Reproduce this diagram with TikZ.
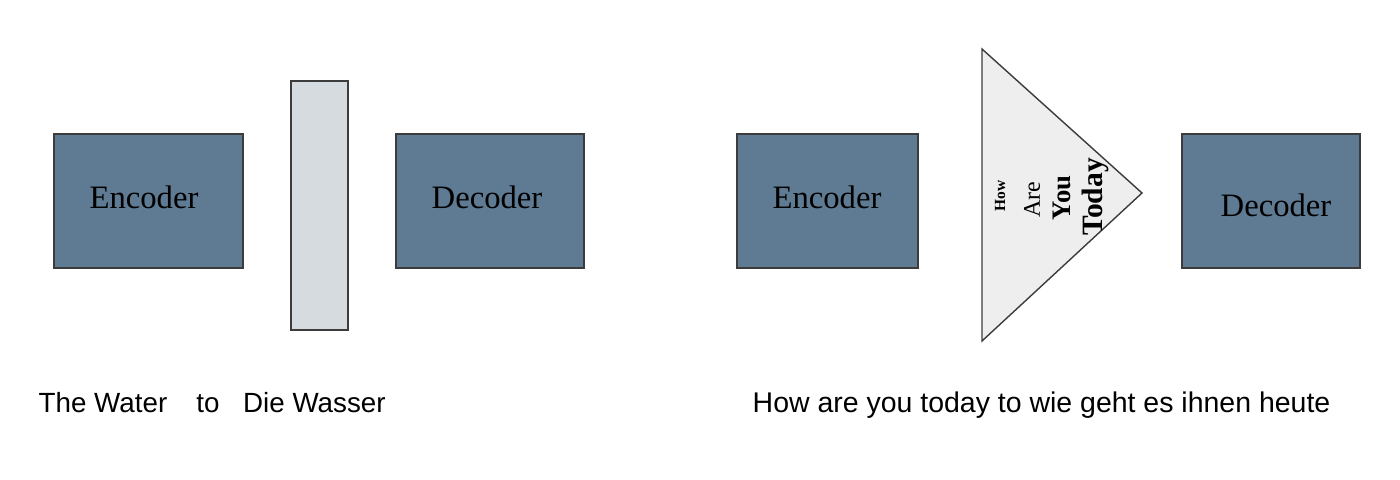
\documentclass[tikz,border=0pt]{standalone}
\usepackage{fontspec}
\setmainfont{Liberation Serif}
\setsansfont{Liberation Sans}
\usepackage{xcolor}
\usepackage{tikz}
\definecolor{boxblue}{RGB}{94,123,147}
\definecolor{bargray}{RGB}{213,219,223}
\definecolor{trigray}{RGB}{238,238,238}
\definecolor{edgegray}{RGB}{60,60,60}

\begin{document}
\begin{tikzpicture}[scale=1,
  block/.style={draw=edgegray,fill=boxblue,minimum height=1.34cm,inner sep=0pt},
  label/.style={inner sep=0pt,font=\fontsize{9.3}{11}\selectfont},
  caption/.style={anchor=west,inner sep=0pt,font=\sffamily\fontsize{7.9}{10}\selectfont}]
  \useasboundingbox (0,0) rectangle (14,-4.79);
  % Left: encoder, bottleneck, decoder
  \node[block,minimum width=1.89cm] (encL) at (1.485,-2.01) {};
  \node[label] (encLtxt) at (1.44,-1.97) {Encoder};
  \node[draw=edgegray,fill=bargray,minimum width=0.57cm,minimum height=2.49cm,inner sep=0pt] (bar) at (3.195,-2.055) {};
  \node[block,minimum width=1.88cm] (decL) at (4.90,-2.01) {};
  \node[label] (decLtxt) at (4.87,-1.97) {Decoder};
  \node[caption] (capL) at (0.38,-4.03) {The Water\hspace{1.05em}to\hspace{0.85em}Die Wasser};
  % Right: encoder, attention triangle, decoder
  \node[block,minimum width=1.81cm] (encR) at (8.275,-2.01) {};
  \node[label] (encRtxt) at (8.27,-1.97) {Encoder};
  \draw[draw=edgegray,fill=trigray] (9.82,-0.49) -- (11.42,-1.93) -- (9.82,-3.41) -- cycle;
  \node[rotate=90,inner sep=0pt,font=\bfseries\fontsize{4.4}{5}\selectfont] (how) at (10.00,-1.96) {How};
  \node[rotate=90,inner sep=0pt,font=\fontsize{6.8}{7}\selectfont] (are) at (10.32,-2.00) {Are};
  \node[rotate=90,inner sep=0pt,font=\bfseries\fontsize{7.6}{8}\selectfont] (you) at (10.62,-1.98) {You};
  \node[rotate=90,inner sep=0pt,font=\bfseries\fontsize{8.4}{9}\selectfont] (today) at (10.95,-1.97) {Today};
  \node[block,minimum width=1.78cm] (decR) at (12.71,-2.01) {};
  \node[label] (decRtxt) at (12.76,-2.05) {Decoder};
  \node[caption,font=\sffamily\fontsize{8.1}{10}\selectfont] (capR) at (7.52,-4.05) {How are you today to wie geht es ihnen heute};
\end{tikzpicture}
\end{document}
